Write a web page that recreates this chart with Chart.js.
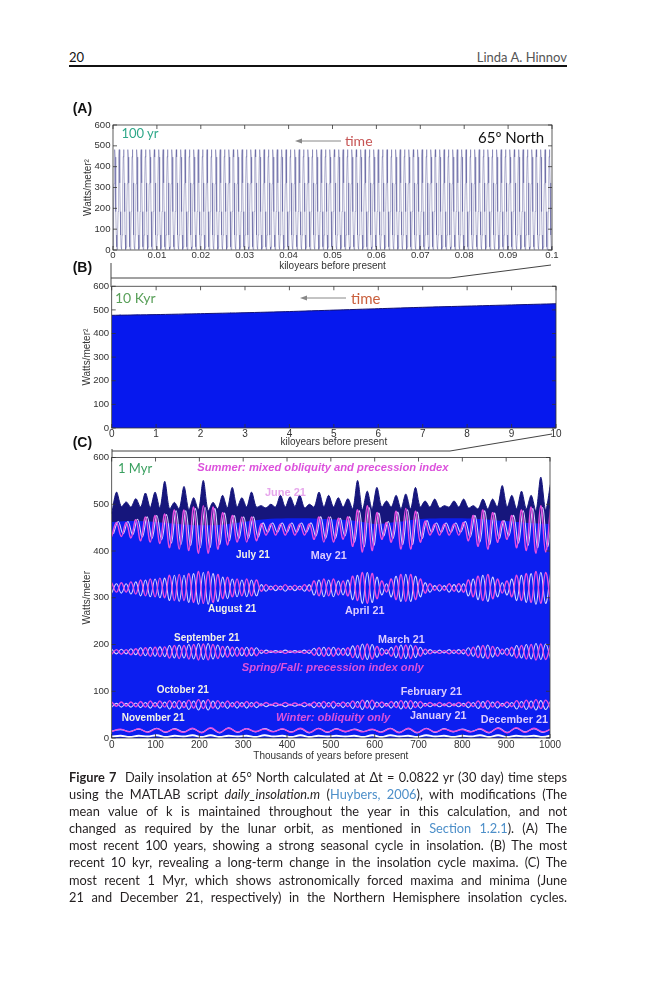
<!DOCTYPE html>
<html><head><meta charset="utf-8">
<script src="https://cdn.jsdelivr.net/npm/chart.js@4.4.1/dist/chart.umd.min.js"></script>
<style>
html,body{margin:0;padding:0;background:#fff;}
body{width:666px;height:1000px;position:relative;overflow:hidden;font-family:Lato,sans-serif;}
canvas{position:absolute;}
.t{position:absolute;white-space:nowrap;line-height:1;transform:translateY(-50%);}
.lab{font-family:'Liberation Sans',Arial,sans-serif;font-weight:bold;font-size:10px;}
.r{font-size:10.8px;}
.it{font-family:'Liberation Sans',Arial,sans-serif;font-weight:bold;font-style:italic;font-size:11.2px;color:#dc52dc;}
.w{color:#f4f2e6;}
.v{color:#dccbff;}
.pl{font-family:'Liberation Sans',Arial,sans-serif;font-weight:bold;font-size:14px;color:#111;}
#cap{position:absolute;left:69px;top:769px;width:498px;font-size:12.8px;line-height:17.1px;color:#231f20;font-family:Lato,sans-serif;}
#cap .ln{text-align:justify;text-align-last:justify;height:17.1px;}
#cap a{color:#4d8fc9;text-decoration:none;}
</style></head><body>

<div class="t" style="left:69px;top:57px;font-size:13px;color:#111">20</div>
<div class="t" style="right:99px;top:57px;font-size:13px;color:#555">Linda A. Hinnov</div>
<div style="position:absolute;left:69px;top:65px;width:498px;height:2px;background:#111"></div>

<canvas id="cA" width="508" height="164" style="left:60px;top:116px"></canvas>
<canvas id="cB" width="512" height="172" style="left:60px;top:278px"></canvas>
<canvas id="cC" width="512" height="318" style="left:60px;top:448px"></canvas>

<svg width="666" height="1000" style="position:absolute;left:0;top:0;pointer-events:none">
  <g stroke="#444" stroke-width="1" fill="none">
    <polyline points="111,263 111,287"/>
    <polyline points="111,278 450,278 551,265"/>
    <polyline points="112,449 112,458"/>
    <polyline points="112,451 450,451 552,434"/>
  </g>
  <g stroke="#888" stroke-width="1">
    <line x1="341" y1="141" x2="299" y2="141"/>
    <line x1="346" y1="298" x2="304" y2="298"/>
  </g>
  <g fill="#888">
    <polygon points="295,141 302,138.5 302,143.5"/>
    <polygon points="300,298 307,295.5 307,300.5"/>
  </g>
</svg>

<div class="t pl" style="left:72.7px;top:108px">(A)</div>
<div class="t pl" style="left:72.7px;top:267px">(B)</div>
<div class="t pl" style="left:72.7px;top:441.5px">(C)</div>

<div class="t" style="left:121.5px;top:132.5px;font-size:13px;color:#2fa889">100 yr</div>
<div class="t" style="left:345px;top:140.5px;font-size:14px;color:#c65454">time</div>
<div class="t" style="left:478px;top:136.5px;font-size:15px;color:#111">65º North</div>

<div class="t" style="left:115px;top:298px;font-size:14px;color:#5aa05a">10 Kyr</div>
<div class="t" style="left:351px;top:297.5px;font-size:15px;color:#c9603e">time</div>

<div class="t" style="left:118px;top:468px;font-size:13px;color:#3aa060">1 Myr</div>
<div class="t it" style="left:197.3px;top:468px">Summer: mixed obliquity and precession index</div>
<div class="t lab" style="left:265px;top:492.3px;font-size:11px;color:#e7a6ec">June 21</div>
<div class="t lab w" style="left:236px;top:555px">July 21</div>
<div class="t lab v r" style="left:310.7px;top:555px">May 21</div>
<div class="t lab w" style="left:208px;top:609px">August 21</div>
<div class="t lab v r" style="left:345px;top:610px">April 21</div>
<div class="t lab w" style="left:174px;top:638.3px">September 21</div>
<div class="t lab v r" style="left:378px;top:639.3px">March 21</div>
<div class="t it" style="left:241.7px;top:668.3px">Spring/Fall: precession index only</div>
<div class="t lab w" style="left:156.7px;top:690px">October 21</div>
<div class="t lab v r" style="left:400.7px;top:690.7px">February 21</div>
<div class="t lab w" style="left:121.7px;top:718.3px">November 21</div>
<div class="t it" style="left:276px;top:718.3px">Winter: obliquity only</div>
<div class="t lab v r" style="left:410px;top:715px">January 21</div>
<div class="t lab v r" style="left:480.7px;top:719.3px">December 21</div>

<div id="cap">
<div class="ln"><b>Figure 7</b>&nbsp; Daily insolation at 65° North calculated at Δt = 0.0822 yr (30 day) time steps</div>
<div class="ln">using the MATLAB script <i>daily_insolation.m</i> (<a>Huybers, 2006</a>), with modifications (The</div>
<div class="ln">mean value of k is maintained throughout the year in this calculation, and not</div>
<div class="ln">changed as required by the lunar orbit, as mentioned in <a>Section 1.2.1</a>). (A) The</div>
<div class="ln">most recent 100 years, showing a strong seasonal cycle in insolation. (B) The most</div>
<div class="ln">recent 10 kyr, revealing a long-term change in the insolation cycle maxima. (C) The</div>
<div class="ln">most recent 1 Myr, which shows astronomically forced maxima and minima (June</div>
<div class="ln">21 and December 21, respectively) in the Northern Hemisphere insolation cycles.</div>
</div>

<script>
// ---------- DATA ----------
// Panel A: one annual cycle (Jan 21 ... Dec 21), W/m^2, repeated over 100 years
const annualCycle = [14, 72, 185, 318, 448, 482, 446, 322, 184, 72, 15, 3];
const yearsA = 100;

// Panel B: upper envelope (summer maxima) over last 10 kyr; winter minima ~0
const kyrB = [0,1,2,3,4,5,6,7,8,9,10];
const envB = [477,480,484,488,493,499,505,511,516,521,526];

// Panel C: x positions (kyr)
const kyrP = [0,11,22,33,44,55,66,77,88,99,110,121,132,143,154,165,176,187,198,209,220,231,242,253,264,275,286,297,308,319,330,341,352,363,374,385,396,407,418,429,440,451,462,473,484,495,506,517,528,539,550,561,572,583,594,605,616,627,638,649,660,671,682,693,704,715,726,737,748,759,770,781,792,803,814,825,836,847,858,869,880,891,902,913,924,935,946,957,968,979,990,1001];
const kyrLag = [4,15,26,37,48,59,70,81,92,103,114,125,136,147,158,169,180,191,202,213,224,235,246,257,268,279,290,301,312,323,334,345,356,367,378,389,400,411,422,433,444,455,466,477,488,499,510,521,532,543,554,565,576,587,598,609,620,631,642,653,664,675,686,697,708,719,730,741,752,763,774,785,796,807,818,829,840,851,862,873,884,895,906,917,928,939,950,961,972,983,994,1005];
const kyrO = [0,20.5,41,61.5,82,102.5,123,143.5,164,184.5,205,225.5,246,266.5,287,307.5,328,348.5,369,389.5,410,430.5,451,471.5,492,512.5,533,553.5,574,594.5,615,635.5,656,676.5,697,717.5,738,758.5,779,799.5,820,840.5,861,881.5,902,922.5,943,963.5,984,1004.5];
const kyrN = [0,50,100,150,200,250,300,350,400,450,500,550,600,650,700,750,800,850,900,950,1000];

const june21 = [480,526,495,505,494,512,494,524,493,526,492,549,490,504,490,538,488,514,488,551,486,504,490,519,492,536,494,514,494,526,494,497,492,500,494,519,494,516,495,519,492,500,494,526,494,519,494,514,494,512,490,551,488,528,490,536,494,507,494,519,490,522,490,536,494,507,494,511,492,497,494,507,494,511,492,497,490,511,490,511,494,540,494,519,490,528,490,519,486,558,488,543];
const navyBase = [462,464,462,458,455,456,462,468,470,470,468,465,458,462,468,470,470,468,464,460,458];
const may21 = [431,461,431,461,428,467,422,473,419,476,416,479,407,488,404,488,401,494,395,497,395,494,404,482,413,476,419,473,419,473,422,458,434,458,434,458,434,458,434,458,434,458,425,473,419,473,419,470,425,473,410,488,398,497,401,482,425,461,419,485,404,491,404,485,419,464,434,458,434,458,434,458,434,461,422,476,410,488,404,482,419,464,425,476,407,488,401,494,395,497,398,491];
const july21 = [437,463,437,463,435,468,430,473,427,476,424,478,417,486,414,486,412,491,407,493,407,491,414,481,422,476,427,473,427,473,430,460,440,460,440,460,440,460,440,460,440,460,432,473,427,473,427,470,432,473,419,486,409,493,412,481,432,463,427,483,414,488,414,483,427,465,440,460,440,460,440,460,440,463,430,476,419,486,414,481,427,465,432,476,417,486,412,491,407,493,409,488];
const aug21 = [332,312,332,312,334,308,338,304,340,302,342,300,348,294,350,294,352,290,356,288,356,290,350,298,344,302,340,304,340,304,338,314,328,317,327,317,328,317,327,317,328,314,336,304,340,304,340,306,336,304,346,294,354,288,352,298,336,312,340,296,350,292,350,296,340,310,330,316,328,316,330,314,330,312,338,302,346,294,350,298,340,310,336,302,348,294,352,290,356,288,354,292];
const apr21 = [310,330,310,330,308,334,304,338,302,340,300,342,294,348,292,348,290,352,286,354,286,352,292,344,298,340,302,338,302,338,304,328,314,325,315,325,314,325,315,325,314,328,306,338,302,338,302,336,306,338,296,348,288,354,290,344,306,330,302,346,292,350,292,346,302,332,312,326,314,326,312,328,312,330,304,340,296,348,292,344,302,332,306,340,294,348,290,352,286,354,288,350];
const mar21 = [190,180,190,180,191,178,193,176,194,175,195,174,198,171,199,171,200,169,202,168,202,169,199,173,196,175,194,176,194,176,193,181,188,183,187,183,188,183,187,183,188,181,192,176,194,176,194,177,192,176,197,171,201,168,200,173,192,180,194,172,199,170,199,172,194,179,189,182,188,182,189,181,189,180,193,175,197,171,199,173,194,179,192,175,198,171,200,169,202,168,201,170];
const sep21 = [179,189,179,189,178,191,176,193,175,194,174,195,171,198,170,198,169,200,167,201,167,200,170,196,173,194,175,193,175,193,176,188,181,186,182,186,181,186,182,186,181,188,177,193,175,193,175,192,177,193,172,198,168,201,169,196,177,189,175,197,170,199,170,197,175,190,180,187,181,187,180,188,180,189,176,194,172,198,170,196,175,190,177,194,171,198,169,200,167,201,168,199];
const oct21 = [77,68,77,68,77,67,78,66,79,67,79,66,80,65,80,65,81,64,82,63,82,64,80,66,79,67,78,67,78,67,77,69,76,70,75,70,76,70,75,70,76,69,77,67,78,67,78,68,77,67,79,65,81,64,81,66,77,68,78,65,80,64,80,65,78,68,76,69,76,69,76,69,76,68,77,67,79,65,80,66,78,68,77,67,80,65,81,64,82,63,81,64];
const feb21 = [66,74,66,74,66,75,65,76,64,76,64,77,62,78,62,78,61,79,60,80,60,79,62,77,63,76,64,76,64,76,65,73,67,72,68,72,67,72,68,72,67,73,65,76,64,76,64,75,65,76,63,78,61,80,61,77,65,74,64,78,62,79,62,78,64,74,67,73,67,73,67,73,67,74,65,76,63,78,62,77,64,74,65,76,62,78,61,79,60,80,61,79];
const nov21 = [14,19,13,20,12,20,13,19,12,21,11,22,12,21,13,20,14,19,13,20,12,21,12,20,13,19,14,18,13,19,12,20,11,21,12,20,13,19,14,18,13,20,12,21,11,22,12,21,13,20];
const jan21 = [15,18,14,19,13,21,12,20,13,20,12,21,11,22,12,20,13,20,14,19,13,20,11,21,12,20,13,19,14,18,13,21,12,20,11,21,12,20,13,19,14,19,11,22,12,21,13,20,12,21];
const dec21 = [3,5,2,5,3,6,2,5,3,6,2,6,2,5,3,5,2,6,3,5,2,6,2,5,3,5,3,5,2,6,2,6,3,5,2,6,3,5,2,5,3,6,2,6,2,5,3,5,2,6];

// ---------- CHARTS ----------
Chart.defaults.font.family = "'Liberation Sans', Arial, sans-serif";
const pts = (xs, ys) => xs.map((x, i) => ({x: x, y: ys[i]}));

const boxPlugin = {
  id: 'matlabBox',
  afterDatasetsDraw(chart) {
    const {ctx, chartArea: a, scales} = chart;
    ctx.save();
    ctx.strokeStyle = '#333';
    ctx.lineWidth = 0.8;
    ctx.strokeRect(a.left, a.top, a.right - a.left, a.bottom - a.top);
    const L = 4;
    ctx.beginPath();
    scales.x.ticks.forEach(t => {
      const px = scales.x.getPixelForValue(t.value);
      ctx.moveTo(px, a.bottom); ctx.lineTo(px, a.bottom - L);
      ctx.moveTo(px, a.top); ctx.lineTo(px, a.top + L);
    });
    scales.y.ticks.forEach(t => {
      const py = scales.y.getPixelForValue(t.value);
      ctx.moveTo(a.left, py); ctx.lineTo(a.left + L, py);
      ctx.moveTo(a.right, py); ctx.lineTo(a.right - L, py);
    });
    ctx.stroke();
    ctx.restore();
  }
};

function makeChart(id, datasets, o) {
  return new Chart(document.getElementById(id), {
    type: 'line',
    data: { datasets: datasets },
    plugins: [boxPlugin],
    options: {
      responsive: false,
      animation: false,
      layout: { padding: { left: 0, right: o.padR, top: o.padT, bottom: 0 } },
      plugins: { legend: { display: false }, tooltip: { enabled: false } },
      elements: { point: { radius: 0 } },
      scales: {
        x: {
          type: 'linear', min: o.xmin, max: o.xmax,
          grid: { display: false, drawTicks: false }, border: { display: false },
          ticks: { stepSize: o.xstep, autoSkip: false, maxRotation: 0, padding: o.xTickPad,
                   color: '#333', font: { size: o.xTickSize }, callback: o.fmt },
          title: { display: true, text: o.xtitle, color: '#333', font: { size: 10 },
                   padding: { top: 0, bottom: o.xTitlePad } },
          afterFit: s => { s.height = o.xH; }
        },
        y: {
          min: 0, max: 600,
          grid: { display: false, drawTicks: false }, border: { display: false },
          ticks: { stepSize: 100, padding: 2.5, color: '#333', font: { size: 9.6 } },
          title: { display: true, text: o.ytitle, color: '#333', font: { size: 10 },
                   padding: { top: o.yTitlePad, bottom: 0 } },
          afterFit: s => { s.width = o.yW; }
        }
      }
    }
  });
}

// Panel A
const ptsA = [];
for (let y = 0; y < yearsA; y++) {
  annualCycle.forEach((v, m) => ptsA.push({ x: (y + m / 12) / 1000, y: v }));
}
ptsA.push({ x: 0.1, y: annualCycle[0] });

makeChart('cA', [{
  data: ptsA, borderColor: 'rgba(80,80,150,0.75)', borderWidth: 0.6, tension: 0, fill: false
}], {
  xmin: 0, xmax: 0.1, xstep: 0.01, fmt: v => String(Math.round(v * 100) / 100),
  xtitle: 'kiloyears before present', ytitle: 'Watts/meter\u00B2',
  padR: 16, padT: 9, xH: 30, yW: 53, xTickPad: 0, xTickSize: 9.6, xTitlePad: 8, yTitlePad: 22.3
});

// Panel B
makeChart('cB', [{
  data: pts(kyrB, envB), fill: 'origin', backgroundColor: '#0618ee',
  borderColor: '#141477', borderWidth: 1, tension: 0.2
}], {
  xmin: 0, xmax: 10, xstep: 1, fmt: v => String(v),
  xtitle: 'kiloyears before present', ytitle: 'Watts/meter\u00B2',
  padR: 16, padT: 8, xH: 22, yW: 51.7, xTickPad: 0, xTickSize: 10, xTitlePad: 1.3, yTitlePad: 21.3
});

// Panel C
const PINK = '#e84ee0', LAV = '#d9d2ff';
const ln = (xs, ys, c, w) => ({ data: pts(xs, ys), borderColor: c, borderWidth: w, tension: 0.4, fill: false });
makeChart('cC', [
  ln(kyrO, dec21, '#ffffff', 2),
  ln(kyrO, nov21, PINK, 1.4),
  ln(kyrO, jan21, LAV, 1.1),
  ln(kyrP, oct21, PINK, 1.4),
  ln(kyrP, feb21, LAV, 1.1),
  ln(kyrP, sep21, PINK, 1.4),
  ln(kyrP, mar21, LAV, 1.1),
  ln(kyrP, aug21, PINK, 1.4),
  ln(kyrP, apr21, LAV, 1.1),
  ln(kyrP, may21, PINK, 1.4),
  ln(kyrLag, july21, LAV, 1.1),
  { data: pts(kyrN, navyBase), fill: 'origin', backgroundColor: '#0c1ef0', borderWidth: 0, tension: 0.3 },
  { data: pts(kyrP, june21), fill: 'origin', backgroundColor: '#16167c', borderColor: '#16167c', borderWidth: 1, tension: 0.3 }
], {
  xmin: 0, xmax: 1000, xstep: 100, fmt: v => String(v),
  xtitle: 'Thousands of years before present', ytitle: 'Watts/meter',
  padR: 22, padT: 9.5, xH: 28, yW: 51.7, xTickPad: 1.3, xTickSize: 10, xTitlePad: 3.3, yTitlePad: 21.3
});

// fit caption lines
document.querySelectorAll('#cap .ln').forEach(el => {
  el.style.height = 'auto';
  let ls = 0;
  while (el.getBoundingClientRect().height > 20 && ls > -2) {
    ls -= 0.05;
    el.style.letterSpacing = ls + 'px';
  }
  el.style.height = '17.1px';
});
</script>
</body></html>
